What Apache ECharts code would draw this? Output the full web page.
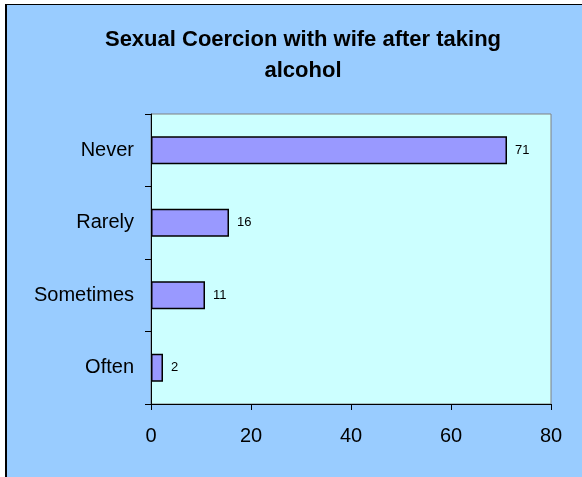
<!DOCTYPE html>
<html>
<head>
<meta charset="utf-8">
<script src="https://cdn.jsdelivr.net/npm/echarts@6/dist/echarts.min.js"></script>
<style>
html,body{margin:0;padding:0;background:#ffffff;width:582px;height:477px;overflow:hidden;}
#chart{position:absolute;left:5px;top:4px;width:575px;height:473px;border-left:2px solid #000;border-top:1px solid #000;background:#99CCFF;}
</style>
</head>
<body>
<div id="chart"></div>
<script>
var titleText = 'Sexual Coercion with wife after taking\nalcohol';
var categories = ['Never', 'Rarely', 'Sometimes', 'Often'];
var values = [71.2, 15.6, 10.8, 2.4];
var xTicks = [0, 20, 40, 60, 80];

var chart = echarts.init(document.getElementById('chart'), null, {renderer: 'canvas'});
var font = 'Liberation Sans, Arial, sans-serif';
chart.setOption({
  backgroundColor: '#99CCFF',
  animation: false,
  graphic: [{
    type: 'text',
    x: 296,
    y: 19,
    style: {
      text: titleText,
      font: 'bold 22px ' + font,
      fill: '#000',
      textAlign: 'center',
      textVerticalAlign: 'top',
      lineHeight: 31
    }
  }],
  grid: {
    left: 144, top: 109, width: 400, height: 290,
    show: true, backgroundColor: '#CCFFFF', borderColor: '#808080', borderWidth: 1
  },
  xAxis: {
    type: 'value',
    min: xTicks[0], max: xTicks[xTicks.length - 1], interval: 20,
    axisLine: {show: true, lineStyle: {color: '#000', width: 1}},
    axisTick: {show: true, length: 6, lineStyle: {color: '#000'}},
    splitLine: {show: false},
    axisLabel: {fontSize: 20, fontFamily: font, color: '#000', margin: 22}
  },
  yAxis: {
    type: 'category',
    data: categories,
    inverse: true,
    axisLine: {show: true, lineStyle: {color: '#000', width: 1}},
    axisTick: {show: true, length: 6, lineStyle: {color: '#000'}},
    axisLabel: {fontSize: 20, fontFamily: font, color: '#000', margin: 17}
  },
  series: [{
    type: 'bar',
    data: values,
    barWidth: 28,
    itemStyle: {color: '#9999FF', borderColor: '#000', borderWidth: 1.5},
    label: {
      show: true, position: 'right', distance: 8,
      fontSize: 13, fontFamily: font, color: '#000',
      formatter: function (p) { return Math.round(p.value); }
    }
  }]
});
</script>
</body>
</html>
